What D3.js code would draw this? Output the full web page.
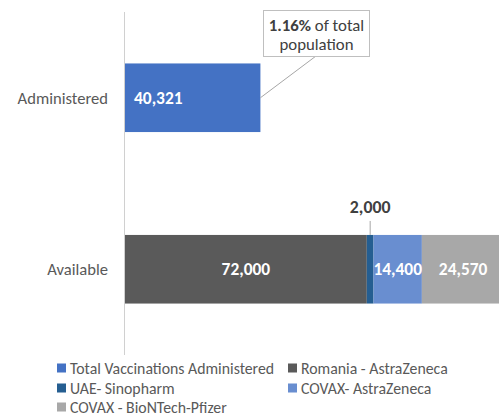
<!DOCTYPE html>
<html><head><meta charset="utf-8">
<script src="https://cdn.jsdelivr.net/npm/d3@7"></script>
<style>body{margin:0;background:#fff}svg{display:block;font-family:Carlito,Lato,"Open Sans",sans-serif}</style>
</head><body><svg id="c" width="499" height="416"></svg>
<script>
const categories = ["Administered", "Available"];
const seriesNames = ["Total Vaccinations Administered", "Romania - AstraZeneca", "UAE- Sinopharm", "COVAX- AstraZeneca", "COVAX - BioNTech-Pfizer"];
const seriesColors = ["#4472C4", "#5A5A5A", "#255E91", "#698ED0", "#A8A8A8"];
const administeredValues = [40321, 0, 0, 0, 0];
const availableValues = [0, 72000, 2000, 14400, 24570];
const calloutText = ["1.16%", " of total", "population"];

const svg = d3.select("#c");
const x = d3.scaleLinear().domain([0, 120000]).range([125, 528]);
const y = d3.scaleBand().domain(categories).range([12, 355]).paddingInner(0.6).paddingOuter(0.3);

const rows = [administeredValues, availableValues];
const fmt = d3.format(",");
const marks = [];
rows.forEach((vals, ci) => {
  let acc = 0;
  vals.forEach((v, si) => {
    if (v > 0) marks.push({cat: categories[ci], s: si, v, x0: acc, x1: acc + v});
    acc += v;
  });
});

svg.append("g").selectAll("rect").data(marks).join("rect")
  .attr("x", d => x(d.x0)).attr("width", d => x(d.x1) - x(d.x0))
  .attr("y", d => y(d.cat)).attr("height", y.bandwidth())
  .attr("fill", d => seriesColors[d.s]);

// axis line
svg.append("line").attr("x1", x(0) - 0.5).attr("x2", x(0) - 0.5).attr("y1", 12).attr("y2", 355)
  .attr("stroke", "#d0d0d0").attr("stroke-width", 1);

// category labels
svg.append("g").selectAll("text").data(categories).join("text")
  .attr("x", 108).attr("y", d => y(d) + y.bandwidth() / 2).attr("dy", "0.35em")
  .attr("text-anchor", "end").attr("font-size", 16.6).attr("fill", "#595959").text(d => d);

// value labels
const lab = svg.append("g").attr("font-weight", "bold").attr("font-size", 17.4).attr("fill", "#fff");
marks.forEach(d => {
  const cy = y(d.cat) + y.bandwidth() / 2;
  if (d.s === 0) {
    lab.append("text").attr("x", x(d.x0) + 9).attr("y", cy).attr("dy", "0.35em").text(fmt(d.v));
  } else if (d.s === 2) {
    const cx = (x(d.x0) + x(d.x1)) / 2;
    svg.append("line").attr("x1", cx).attr("x2", cx).attr("y1", y(d.cat) - 14).attr("y2", y(d.cat))
      .attr("stroke", "#a6a6a6");
    svg.append("text").attr("x", cx).attr("y", y(d.cat) - 28).attr("dy", "0.35em")
      .attr("text-anchor", "middle").attr("font-weight", "bold").attr("font-size", 17.8)
      .attr("fill", "#404040").text(fmt(d.v));
  } else {
    lab.append("text").attr("x", (x(d.x0) + x(d.x1)) / 2).attr("y", cy).attr("dy", "0.35em")
      .attr("text-anchor", "middle").text(fmt(d.v));
  }
});

// callout for administered
const adm = marks[0];
const ax = x(adm.x1), ay = y(adm.cat) + y.bandwidth() / 2;
svg.append("line").attr("x1", ax).attr("y1", ay).attr("x2", 316).attr("y2", 56).attr("stroke", "#a6a6a6");
svg.append("rect").attr("x", 263.5).attr("y", 10.5).attr("width", 106).attr("height", 46)
  .attr("fill", "#fff").attr("stroke", "#bfbfbf");
const t1 = svg.append("text").attr("x", 316.5).attr("y", 25).attr("dy", "0.35em")
  .attr("text-anchor", "middle").attr("font-size", 16.8).attr("fill", "#404040");
t1.append("tspan").attr("font-weight", "bold").text(calloutText[0]);
t1.append("tspan").text(calloutText[1]);
svg.append("text").attr("x", 316.5).attr("y", 44).attr("dy", "0.35em")
  .attr("text-anchor", "middle").attr("font-size", 16.8).attr("fill", "#404040").text(calloutText[2]);

// legend
const legPos = [[57, 368], [288, 368], [57, 388], [288, 388], [57, 407]];
const lg = svg.append("g").selectAll("g").data(seriesNames).join("g")
  .attr("transform", (d, i) => `translate(${legPos[i][0]},${legPos[i][1]})`);
lg.append("rect").attr("x", 0).attr("y", -4.5).attr("width", 9).attr("height", 9).attr("fill", (d, i) => seriesColors[i]);
lg.append("text").attr("x", 13).attr("y", 0).attr("dy", "0.35em").attr("font-size", 15.8)
  .attr("fill", "#595959").text(d => d);
</script></body></html>
